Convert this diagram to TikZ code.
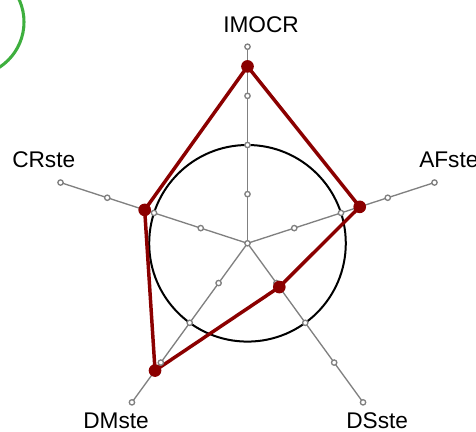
\documentclass[tikz,border=0pt]{standalone}
\usepackage{fontspec}
\setmainfont{Liberation Sans}

\begin{document}
\begin{tikzpicture}[x=0.75pt,y=0.75pt,yscale=-1,xscale=1,
  axisline/.style={color={rgb, 255:red, 128; green, 128; blue, 128 },line width=1pt},
  tickdot/.style={circle,draw={rgb, 255:red, 128; green, 128; blue, 128 },fill=white,line width=1pt,inner sep=0pt,minimum size=4pt},
  ringline/.style={color=black,line width=1.5pt},
  polyline/.style={color={rgb, 255:red, 139; green, 0; blue, 0 },line width=2.6pt,line join=round},
  valdot/.style={circle,fill={rgb, 255:red, 139; green, 0; blue, 0 },inner sep=0pt,minimum size=9.5pt},
  axislabel/.style={anchor=base west,inner sep=0pt,font=\fontsize{17}{20}\selectfont}]
\useasboundingbox (0,0) rectangle (476,432);
\clip (0,0) rectangle (476,432);

%Shape: Circle (green, partly off the page)
\draw [color={rgb, 255:red, 62; green, 175; blue, 62 },line width=2.3pt] (-30,22) circle [radius=54];

\coordinate (c) at (247.5,243.3);
%Shape: Circle
\draw [ringline] (c) circle [radius=98.3];

%Straight Lines: axes
\foreach \n/\a in {imocr/-90,afste/-18,dsste/54,dmste/126,crste/198}
  \coordinate (\n) at ([shift={(\a:196.6)}]c);
\foreach \n in {imocr,afste,dsste,dmste,crste}
  \draw [axisline] (c) -- (\n);

%Values
\coordinate (v1) at ([shift={(-90:176.9)}]c);
\coordinate (v2) at ([shift={(-18:118)}]c);
\coordinate (v3) at ([shift={(54:54.1)}]c);
\coordinate (v4) at ([shift={(126:157.3)}]c);
\coordinate (v5) at ([shift={(198:108.1)}]c);
\draw [polyline] (v1) -- (v2) -- (v3) -- (v4) -- (v5) -- cycle;

%Ticks
\node [tickdot] (t0) at (c) {};
\foreach \a in {-90,-18,54,126,198}
  \foreach \i in {1,2,3,4}
    \node [tickdot] (t\a-\i) at ([shift={(\a:{\i*49.15})}]c) {};

\foreach \v in {1,...,5}
  \node [valdot] (p\v) at (v\v) {};

% Text Node
\node [axislabel] (l-imocr) at (223,32) {IMOCR};
% Text Node
\node [axislabel] (l-afste) at (419,167) {AFste};
% Text Node
\node [axislabel] (l-dsste) at (346,428) {DSste};
% Text Node
\node [axislabel] (l-dmste) at (83,428) {DMste};
% Text Node
\node [axislabel] (l-crste) at (12,167) {CRste};
\end{tikzpicture}
\end{document}
